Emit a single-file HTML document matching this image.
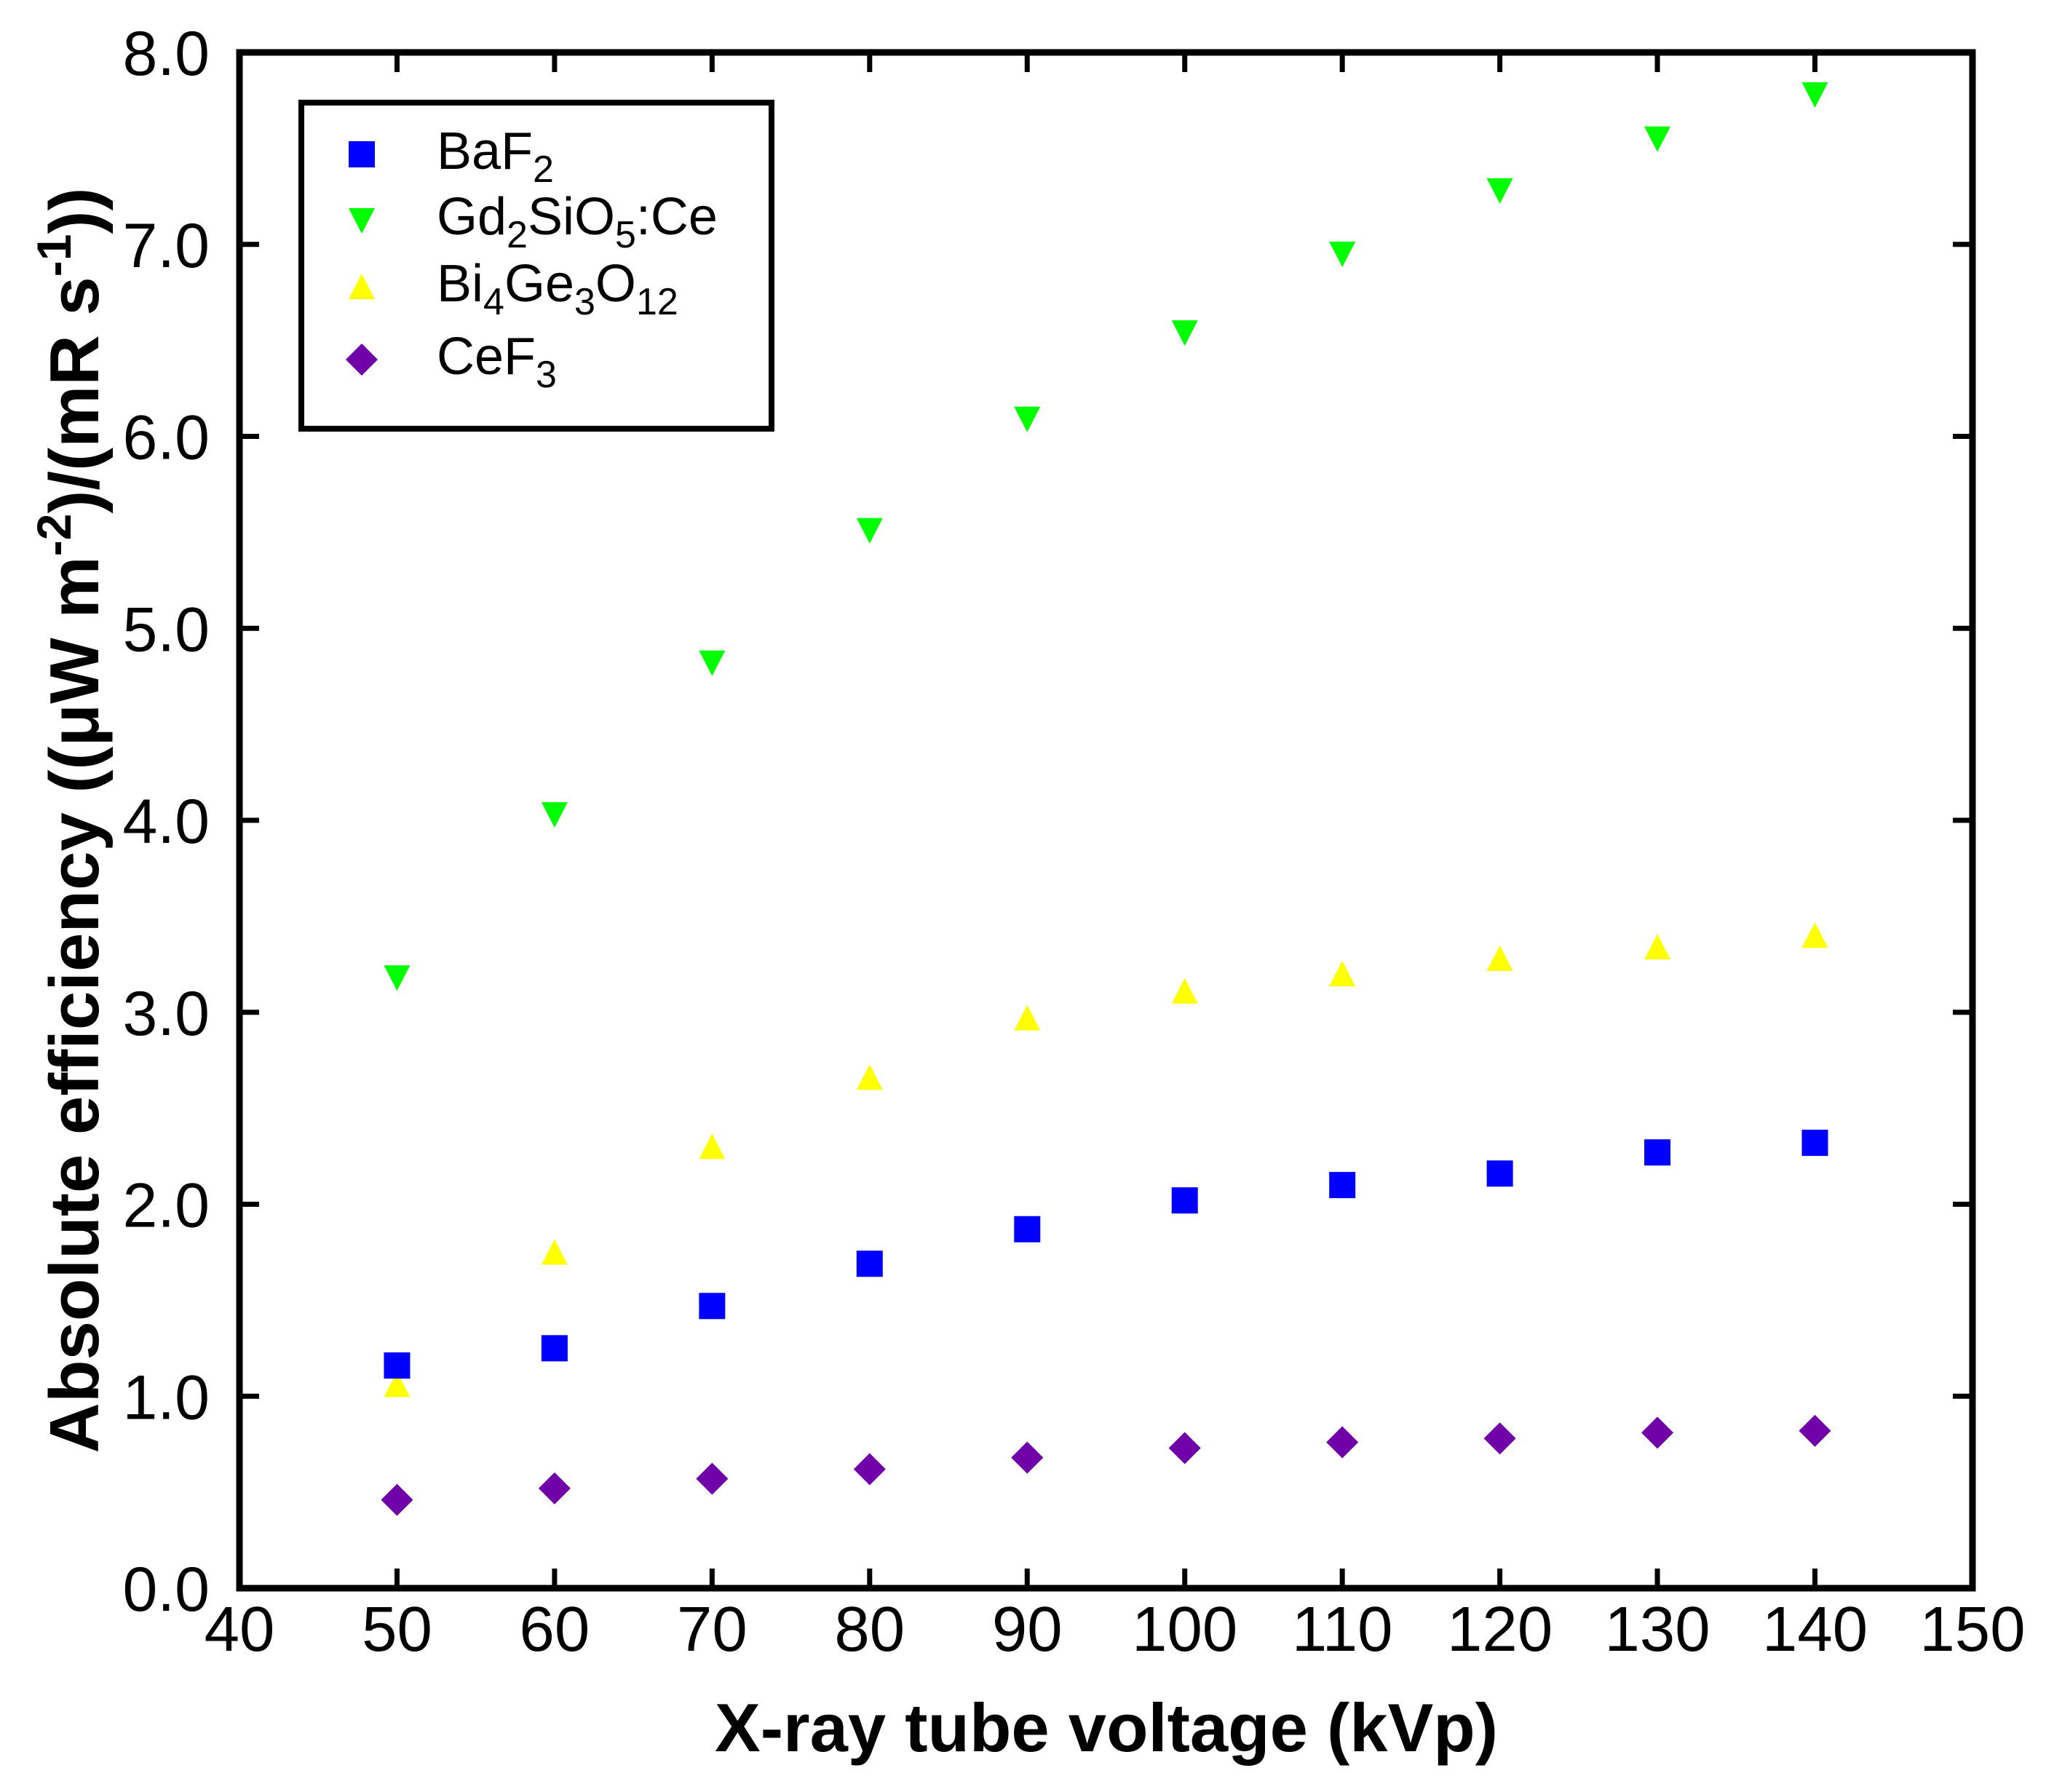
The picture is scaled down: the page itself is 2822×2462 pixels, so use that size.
<!DOCTYPE html>
<html><head><meta charset="utf-8"><style>html,body{margin:0;padding:0;background:#fff}svg{display:block}</style></head>
<body>
<svg id="chart" width="2822" height="2462" viewBox="0 0 2822 2462" xmlns="http://www.w3.org/2000/svg" font-family="Liberation Sans, Arial, sans-serif">
<rect width="2822" height="2462" fill="#fff"/>
<g id="marks"></g>
<g id="axes"></g>
<g>
<rect x="414" y="141" width="646" height="448" fill="#fff" stroke="#000" stroke-width="8"/>
<g id="legendMarks"></g>
<text x="600" y="232" font-size="72">BaF<tspan font-size="52" dy="18">2</tspan></text>
<text x="600" y="322" font-size="72">Gd<tspan font-size="52" dy="18">2</tspan><tspan dy="-18">SiO</tspan><tspan font-size="52" dy="18">5</tspan><tspan dy="-18">:Ce</tspan></text>
<text x="600" y="414" font-size="72">Bi<tspan font-size="52" dy="18">4</tspan><tspan dy="-18">Ge</tspan><tspan font-size="52" dy="18">3</tspan><tspan dy="-18">O</tspan><tspan font-size="52" dy="18">12</tspan></text>
<text x="600" y="514" font-size="72">CeF<tspan font-size="52" dy="18">3</tspan></text>
</g>
<text x="1520" y="2406" font-size="94" font-weight="bold" text-anchor="middle">X-ray tube voltage (kVp)</text>
<text transform="translate(135,1127) rotate(-90)" font-size="96" font-weight="bold" text-anchor="middle">Absolute efficiency ((μW m<tspan font-size="66" dy="-38">-2</tspan><tspan dy="38">)/(mR s</tspan><tspan font-size="66" dy="-38">-1</tspan><tspan dy="38">))</tspan></text>
</svg>
<script>
const xValues = [50,60,70,80,90,100,110,120,130,140];
const baf2 = [1.16,1.25,1.47,1.69,1.87,2.02,2.10,2.16,2.27,2.32];
const gso = [3.18,4.03,4.82,5.51,6.09,6.54,6.95,7.28,7.55,7.78];
const bgo = [1.06,1.75,2.30,2.66,2.97,3.11,3.20,3.28,3.34,3.40];
const cef3 = [0.46,0.52,0.57,0.62,0.68,0.73,0.76,0.78,0.81,0.82];
const xTicks = [40,50,60,70,80,90,100,110,120,130,140,150];
const yTicks = [0,1,2,3,4,5,6,7,8];
const yTickLabels = ["0.0","1.0","2.0","3.0","4.0","5.0","6.0","7.0","8.0"];

const L=329,R=2710,T=72,B=2182;
const xs=v=>L+(v-40)/110*(R-L);
const ys=v=>B-(v/8)*(B-T);
const NS="http://www.w3.org/2000/svg";
function mk(tag,attrs,parent){const e=document.createElementNS(NS,tag);for(const k in attrs)e.setAttribute(k,attrs[k]);parent.appendChild(e);return e;}
const marks=document.getElementById('marks'), axes=document.getElementById('axes'), lm=document.getElementById('legendMarks');

function square(cx,cy,p){return mk('rect',{x:cx-18,y:cy-18,width:36,height:36,fill:'#0000ff'},p);}
function down(cx,cy,p){return mk('polygon',{points:`${cx-18},${cy-17} ${cx+18},${cy-17} ${cx},${cy+18}`,fill:'#00ff00'},p);}
function up(cx,cy,p){return mk('polygon',{points:`${cx-18},${cy+17} ${cx+18},${cy+17} ${cx},${cy-18}`,fill:'#ffff00'},p);}
function diamond(cx,cy,p){return mk('polygon',{points:`${cx},${cy-22} ${cx+22},${cy} ${cx},${cy+22} ${cx-22},${cy}`,fill:'#7000a8'},p);}

const series=[[bgo,up,'bgo'],[cef3,diamond,'cef3'],[baf2,square,'baf2'],[gso,down,'gso']];
series.forEach(([arr,fn,name])=>{
  arr.forEach((v,i)=>{
    const el=fn(xs(xValues[i]),ys(v),marks);
    
    
  });
});

let e;
e=square(497,212,lm);


e=down(497,303,lm);


e=up(497,394,lm);


e=diamond(497,494,lm);



xTicks.forEach(t=>{
  const x=xs(t);
  if(t>40&&t<150){
    e=mk('line',{x1:x,y1:B,x2:x,y2:B-27,stroke:'#000','stroke-width':7},axes);
    
    
    e=mk('line',{x1:x,y1:T,x2:x,y2:T+27,stroke:'#000','stroke-width':7},axes);
    
    
  }
  e=mk('text',{x:x,y:2268,'font-size':87,'text-anchor':'middle'},axes);
  e.textContent=String(t);
  
  
});
yTicks.forEach((t,i)=>{
  const y=ys(t);
  if(t>0&&t<8){
    e=mk('line',{x1:L,y1:y,x2:L+27,y2:y,stroke:'#000','stroke-width':7},axes);
    
    
    e=mk('line',{x1:R,y1:y,x2:R-27,y2:y,stroke:'#000','stroke-width':7},axes);
    
    
  }
  e=mk('text',{x:288,y:y+31,'font-size':86,'text-anchor':'end'},axes);
  e.textContent=yTickLabels[i];
  
  
});
e=mk('rect',{x:L,y:T,width:R-L,height:B-T,fill:'none',stroke:'#000','stroke-width':9},axes);


</script>
</body></html>
